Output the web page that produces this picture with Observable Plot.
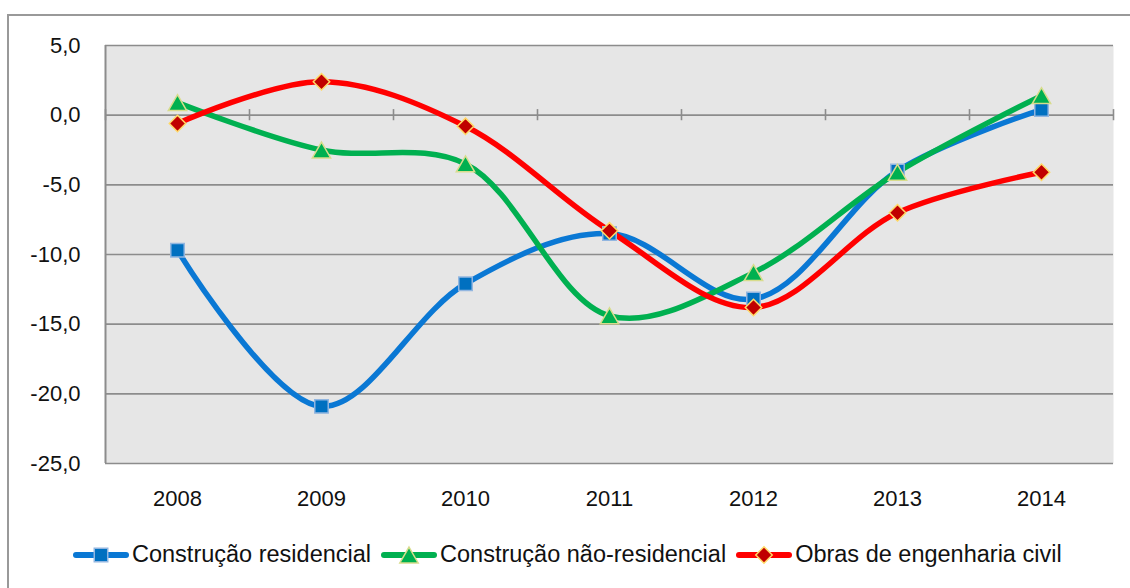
<!DOCTYPE html>
<html>
<head>
<meta charset="utf-8">
<script src="https://cdn.jsdelivr.net/npm/d3@7"></script>
<script src="https://cdn.jsdelivr.net/npm/@observablehq/plot@0.6"></script>
<style>
  html, body { margin: 0; padding: 0; background: #fff; overflow: hidden; }
  #wrap { position: relative; width: 1130px; height: 588px; }
  #frame { position: absolute; left: 7px; top: 14px; width: 1300px; height: 800px; border: 2px solid #999; box-sizing: border-box; }
  #chart { position: absolute; left: 0; top: 0; }
  #legend { position: absolute; left: 73px; top: 541px; display: flex; align-items: center;
            font-family: "Liberation Sans", Arial, sans-serif; font-size: 23.5px; color: #111; white-space: nowrap; }
  .item { display: flex; align-items: center; margin-right: 10px; }
  .item svg { margin-right: 3px; }
</style>
</head>
<body>
<div id="wrap">
  <div id="frame"></div>
  <div id="chart"></div>
  <div id="legend"></div>
</div>
<script>
// ---- data ----
const years = ["2008", "2009", "2010", "2011", "2012", "2013", "2014"];
const residencial = [-9.7, -20.9, -12.1, -8.5, -13.2, -4.0, 0.4];
const naoResidencial = [0.9, -2.5, -3.5, -14.4, -11.3, -4.1, 1.4];
const engenhariaCivil = [-0.6, 2.4, -0.8, -8.3, -13.8, -7.0, -4.1];
const yTicks = [5, 0, -5, -10, -15, -20, -25];
const seriesNames = ["Construção residencial", "Construção não-residencial", "Obras de engenharia civil"];

const lineColors = ["#0a78d4", "#00b050", "#ff0000"];
const markFill = ["#0070c0", "#00b050", "#c00000"];
const markStroke = ["#92b6e0", "#d8dc8c", "#ffd966"];
const symbols = ["square", "triangle", "diamond2"];
const radii = [7.6, 6.8, 7.4];
const dys = [0, 2.6, 0];

const allSeries = [residencial, naoResidencial, engenhariaCivil];
const rows = allSeries.map((vals, s) => vals.map((v, i) => ({i, v, s})));
const boundaries = d3.range(-0.5, years.length, 1);
const fmt = v => v.toFixed(1).replace(".", ",");

const marks = [
  Plot.frame({fill: "#e6e6e6", stroke: null}),
  Plot.ruleY(yTicks.filter(t => t !== 0), {stroke: "#8c8c8c", strokeWidth: 1.6}),
  Plot.ruleY([0], {stroke: "#8c8c8c", strokeWidth: 1.6}),
  Plot.ruleX(boundaries, {x: d => d, y1: -0.4, y2: 0.4, stroke: "#8c8c8c", strokeWidth: 1.6}),
  Plot.ruleX([-0.5], {stroke: "#8c8c8c", strokeWidth: 2}),
  Plot.axisY({ticks: yTicks, tickFormat: fmt, tickSize: 0, tickPadding: 25, fontSize: 22, fill: "#111", label: null}),
  Plot.axisX({ticks: d3.range(years.length), tickFormat: i => years[i], tickSize: 0, tickPadding: 27, fontSize: 22, fill: "#111", label: null})
];
rows.forEach((data, s) => {
  marks.push(Plot.line(data, {x: "i", y: "v", curve: "catmull-rom", stroke: lineColors[s], strokeWidth: 5.5, strokeLinecap: "round"}));
});
rows.forEach((data, s) => {
  marks.push(Plot.dot(data, {x: "i", y: "v", symbol: () => symbols[s], r: radii[s], fill: markFill[s], stroke: markStroke[s], strokeWidth: 1.5, dy: dys[s]}));
});

const chart = Plot.plot({
  width: 1130,
  height: 530,
  marginLeft: 105,
  marginRight: 17,
  marginTop: 45,
  marginBottom: 67,
  style: {fontFamily: "'Liberation Sans', Arial, sans-serif", background: "transparent"},
  x: {type: "linear", domain: [-0.5, years.length - 0.5], label: null},
  y: {domain: [-25, 5], label: null},
  symbol: {type: "identity"},
  marks
});
document.getElementById("chart").appendChild(chart);

// ---- legend ----
const legend = document.getElementById("legend");
seriesNames.forEach((name, s) => {
  const item = document.createElement("div");
  item.className = "item";
  const sw = d3.create("svg").attr("width", 56).attr("height", 24);
  sw.append("line").attr("x1", 3).attr("x2", 53).attr("y1", 12).attr("y2", 12)
    .attr("stroke", lineColors[s]).attr("stroke-width", 6).attr("stroke-linecap", "round");
  const sym = {square: d3.symbolSquare, triangle: d3.symbolTriangle, diamond2: d3.symbolDiamond2}[symbols[s]];
  sw.append("path").attr("d", d3.symbol(sym, Math.PI * radii[s] * radii[s])())
    .attr("transform", `translate(28,${12 + dys[s]})`)
    .attr("fill", markFill[s]).attr("stroke", markStroke[s]).attr("stroke-width", 1.5);
  item.appendChild(sw.node());
  const t = document.createElement("span");
  t.textContent = name;
  item.appendChild(t);
  legend.appendChild(item);
});
</script>
</body>
</html>
